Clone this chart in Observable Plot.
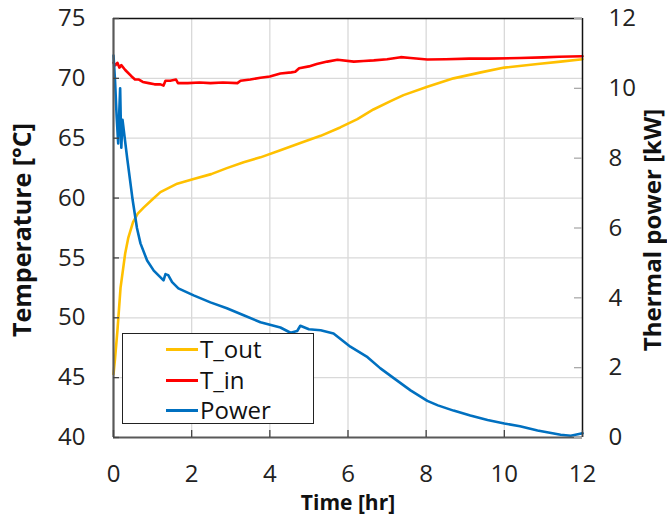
<!DOCTYPE html>
<html><head><meta charset="utf-8">
<script src="https://cdn.jsdelivr.net/npm/d3@7"></script>
<script src="https://cdn.jsdelivr.net/npm/@observablehq/plot@0.6"></script>
<style>
body{margin:0;background:#fff;font-family:"Open Sans",sans-serif}
#wrap{position:relative;width:667px;height:518px;overflow:hidden}
.legend{position:absolute;left:122px;top:333px;width:192px;height:91px;border:1.5px solid #222;background:#fff;box-sizing:border-box}
.row{position:absolute;left:0;height:30px;display:flex;align-items:center;font-size:24px;color:#111;line-height:1}
.sw{display:inline-block;width:32px;height:3px;margin-left:43px;margin-right:2px}
</style></head>
<body><div id="wrap"></div>
<script>
// Time [hr] ticks, temperature ticks, power ticks
const xTicks = [0, 2, 4, 6, 8, 10, 12];
const tempTicks = [40, 45, 50, 55, 60, 65, 70, 75];
const powerTicks = [0, 2, 4, 6, 8, 10, 12];
const seriesNames = ["T_out", "T_in", "Power"];
const seriesColors = ["#FFC000", "#FF0000", "#0070C0"];

// T_out [°C]
const tOutHours = [0, 0.04, 0.1, 0.18, 0.3, 0.38, 0.5, 0.62, 0.77, 1.0, 1.2, 1.63, 2.05, 2.5, 2.9, 3.33, 3.76, 4.27, 4.78, 5.3, 5.8, 6.24, 6.65, 7.09, 7.42, 8.03, 8.7, 9.4, 10.0, 10.85, 11.44, 12];
const tOutValues = [45.3, 46.6, 48.9, 52.5, 55.4, 56.7, 58.0, 58.7, 59.2, 59.9, 60.5, 61.2, 61.6, 62.0, 62.5, 63.0, 63.4, 64.0, 64.6, 65.2, 65.9, 66.6, 67.4, 68.1, 68.6, 69.3, 70.0, 70.5, 70.9, 71.2, 71.4, 71.6];

// T_in [°C]
const tInHours = [0, 0.05, 0.1, 0.15, 0.2, 0.3, 0.45, 0.55, 0.65, 0.75, 0.9, 1.05, 1.2, 1.28, 1.33, 1.45, 1.6, 1.65, 1.9, 2.2, 2.48, 2.8, 3.17, 3.25, 3.5, 3.76, 4.0, 4.27, 4.55, 4.65, 4.75, 5.0, 5.2, 5.47, 5.73, 6.15, 6.4, 6.66, 7.0, 7.35, 7.6, 8.03, 8.5, 9.1, 9.6, 10.4, 11.0, 11.4, 12];
const tInValues = [71.3, 71.1, 71.3, 70.9, 71.1, 70.7, 70.2, 69.9, 69.9, 69.7, 69.6, 69.5, 69.5, 69.4, 69.8, 69.8, 69.9, 69.6, 69.6, 69.65, 69.6, 69.65, 69.6, 69.8, 69.9, 70.05, 70.15, 70.4, 70.5, 70.55, 70.85, 71.0, 71.2, 71.4, 71.55, 71.4, 71.45, 71.5, 71.6, 71.77, 71.7, 71.57, 71.6, 71.65, 71.65, 71.7, 71.75, 71.8, 71.85];

// Thermal power [kW]
const powerHours = [0, 0.04, 0.08, 0.12, 0.15, 0.17, 0.2, 0.23, 0.35, 0.49, 0.6, 0.69, 0.86, 1.03, 1.28, 1.33, 1.4, 1.5, 1.66, 2.05, 2.48, 2.9, 3.33, 3.76, 4.27, 4.53, 4.7, 4.78, 5.0, 5.3, 5.63, 6.06, 6.5, 6.83, 7.17, 7.6, 8.03, 8.3, 8.7, 9.13, 9.57, 10.0, 10.4, 10.85, 11.44, 11.7, 12];
const powerValues = [10.94, 10.2, 9.2, 8.42, 9.4, 10.0, 8.3, 9.1, 8.0, 6.8, 6.0, 5.56, 5.07, 4.78, 4.5, 4.68, 4.65, 4.45, 4.27, 4.07, 3.87, 3.7, 3.5, 3.3, 3.15, 3.0, 3.05, 3.2, 3.1, 3.07, 2.98, 2.6, 2.3, 1.98, 1.7, 1.35, 1.05, 0.92, 0.77, 0.63, 0.5, 0.4, 0.32, 0.2, 0.08, 0.05, 0.12];

// map power (0..12 kW) onto the temperature scale (40..75 °C)
const toT = p => 40 + p * 35 / 12;
const toP = t => (t - 40) * 12 / 35;

const tOut = tOutHours.map((h, i) => ({t: h, v: tOutValues[i]}));
const tIn = tInHours.map((h, i) => ({t: h, v: tInValues[i]}));
const power = powerHours.map((h, i) => ({t: h, v: toT(powerValues[i])}));

const W = 667, H = 518, mL = 113, mR = 85, mT = 18, mB = 81;
const fw = W - mL - mR, fh = H - mT - mB;

const chart = Plot.plot({
  width: W, height: H,
  marginLeft: mL, marginRight: mR, marginTop: mT, marginBottom: mB,
  style: {fontFamily: "'Open Sans', sans-serif", fontSize: "24px", color: "#222", background: "#fff", overflow: "visible"},
  x: {domain: [0, 12]},
  y: {domain: [40, 75]},
  marks: [
    Plot.gridX(xTicks.slice(1, -1), {stroke: "#d9d9d9", strokeOpacity: 1, strokeWidth: 1.3}),
    Plot.gridY(tempTicks.slice(1, -1), {stroke: "#d9d9d9", strokeOpacity: 1, strokeWidth: 1.3}),
    Plot.line(tOut, {x: "t", y: "v", stroke: seriesColors[0], strokeWidth: 2.6}),
    Plot.line(tIn, {x: "t", y: "v", stroke: seriesColors[1], strokeWidth: 2.6}),
    Plot.line(power, {x: "t", y: "v", stroke: seriesColors[2], strokeWidth: 2.6}),
    Plot.ruleY([75], {stroke: "#111", strokeWidth: 1.5}),
    Plot.ruleX([12], {stroke: "#111", strokeWidth: 1.5}),
    Plot.ruleX([0], {stroke: "#595959", strokeWidth: 2.2}),
    Plot.ruleY([40], {stroke: "#595959", strokeWidth: 2.2}),
    Plot.tickY(tempTicks, {y: d => d, insetRight: fw - 6, stroke: "#444", strokeWidth: 1.3}),
    Plot.tickY(powerTicks.map(toT), {y: d => d, insetLeft: fw - 8, stroke: "#aaa", strokeWidth: 1.3}),
    Plot.tickX(xTicks, {x: d => d, insetTop: fh - 7, stroke: "#444", strokeWidth: 1.3}),
    Plot.axisY(tempTicks, {anchor: "left", tickSize: 0, tickPadding: 28, label: null, fill: "#222"}),
    Plot.axisY(powerTicks.map(toT), {anchor: "right", tickSize: 0, tickPadding: 26, label: null, fill: "#222", tickFormat: d => String(Math.round(toP(d)))}),
    Plot.axisX(xTicks, {anchor: "bottom", tickSize: 0, tickPadding: 27, label: null, fill: "#222"}),
    Plot.text(["Temperature [°C]"], {frameAnchor: "left", dx: -91, dy: 2, rotate: -90, textAnchor: "middle", lineAnchor: "middle", fontWeight: "bold", fontSize: 25, fill: "#111"}),
    Plot.text(["Thermal power [kW]"], {frameAnchor: "right", dx: 71, dy: 2, rotate: -90, textAnchor: "middle", lineAnchor: "middle", fontWeight: "bold", fontSize: 24, fill: "#111"}),
    Plot.text(["Time [hr]"], {frameAnchor: "bottom", dy: 66, textAnchor: "middle", lineAnchor: "middle", fontWeight: "bold", fontSize: 21, fill: "#111"})
  ]
});

const wrap = document.getElementById("wrap");
wrap.appendChild(chart);

const legend = document.createElement("div");
legend.className = "legend";
const rowTops = [0, 31, 61];
seriesNames.forEach((name, i) => {
  const row = document.createElement("div");
  row.className = "row";
  row.style.top = rowTops[i] + "px";
  const sw = document.createElement("span");
  sw.className = "sw";
  sw.style.background = seriesColors[i];
  const tx = document.createElement("span");
  tx.textContent = name;
  row.appendChild(sw);
  row.appendChild(tx);
  legend.appendChild(row);
});
wrap.appendChild(legend);
</script>
</body></html>
